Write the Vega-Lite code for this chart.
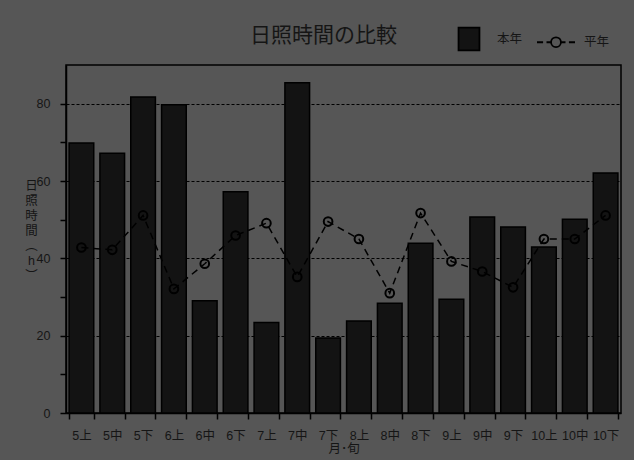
{
  "$schema": "https://vega.github.io/schema/vega-lite/v6.json",
  "width": 555,
  "height": 348,
  "autosize": "none",
  "padding": {"left": 66, "top": 65, "right": 13, "bottom": 47},
  "background": "#565656",
  "title": {"text": "日照時間の比較", "fontSize": 21, "fontWeight": "normal", "color": "#151515", "font": "Noto Sans CJK JP", "anchor": "middle", "frame": "group", "dx": -20, "baseline": "alphabetic", "offset": -44},
  "config": {
    "view": {"stroke": "#000000", "strokeWidth": 1.5},
    "font": "Liberation Sans, Noto Sans CJK JP, sans-serif",
    "axis": {"labelColor": "#151515", "titleColor": "#151515", "domainColor": "#000000", "domainWidth": 1.5, "tickColor": "#000000", "tickWidth": 1.5, "labelFontSize": 12.5, "titleFontSize": 12.5, "titleFontWeight": "normal"}
  },
  "data": {"values": [
    {"period": "5上", "thisYear": 69.8, "normal": 42.8},
    {"period": "5中", "thisYear": 67.2, "normal": 42.2},
    {"period": "5下", "thisYear": 81.7, "normal": 51.1},
    {"period": "6上", "thisYear": 79.7, "normal": 32.1},
    {"period": "6中", "thisYear": 29.0, "normal": 38.6},
    {"period": "6下", "thisYear": 57.2, "normal": 45.9},
    {"period": "7上", "thisYear": 23.4, "normal": 49.1},
    {"period": "7中", "thisYear": 85.4, "normal": 35.2},
    {"period": "7下", "thisYear": 19.4, "normal": 49.5},
    {"period": "8上", "thisYear": 23.8, "normal": 45.0},
    {"period": "8中", "thisYear": 28.4, "normal": 31.0},
    {"period": "8下", "thisYear": 43.9, "normal": 51.7},
    {"period": "9上", "thisYear": 29.4, "normal": 39.2},
    {"period": "9中", "thisYear": 50.7, "normal": 36.6},
    {"period": "9下", "thisYear": 48.1, "normal": 32.5},
    {"period": "10上", "thisYear": 42.9, "normal": 45.0},
    {"period": "10中", "thisYear": 50.1, "normal": 45.0},
    {"period": "10下", "thisYear": 62.1, "normal": 51.1}
  ]},
  "layer": [
    {
      "mark": {"type": "bar", "stroke": "#000000", "strokeWidth": 1.5, "fill": "#131313"},
      "encoding": {
        "x": {"field": "period", "type": "nominal", "sort": null,
          "scale": {"paddingInner": 0.2, "paddingOuter": 0.1},
          "axis": {"title": "月･旬", "labelAngle": 0, "tickBand": "extent", "tickSize": 6, "labelPadding": 10, "titlePadding": 1, "grid": false}},
        "y": {"field": "thisYear", "type": "quantitative",
          "scale": {"domain": [0, 90], "nice": false},
          "axis": {
            "values": [0, 10, 20, 30, 40, 50, 60, 70, 80],
            "labelExpr": "datum.value % 20 === 0 ? datum.label : ''",
            "grid": true,
            "gridColor": "#000000",
            "gridDash": [3, 2],
            "gridWidth": 1.2,
            "gridOpacity": {"condition": {"test": "datum.value % 20 === 0 && datum.value > 0", "value": 1}, "value": 0},
            "tickSize": 6,
            "labelPadding": 10,
            "title": ["日", "照", "時", "間", "︵", "h", "︶"],
            "titleAngle": 0,
            "titleAlign": "center",
            "titleBaseline": "middle",
            "titleLineHeight": 15,
            "titleX": -35,
            "titleY": 120
          }}
      }
    },
    {
      "mark": {"type": "line", "stroke": "#000000", "strokeWidth": 1.5, "strokeDash": [7, 5]},
      "encoding": {
        "x": {"field": "period", "type": "nominal", "sort": null},
        "y": {"field": "normal", "type": "quantitative"}
      }
    },
    {
      "mark": {"type": "point", "shape": "circle", "filled": false, "stroke": "#000000", "strokeWidth": 2, "size": 75, "opacity": 1},
      "encoding": {
        "x": {"field": "period", "type": "nominal", "sort": null},
        "y": {"field": "normal", "type": "quantitative"}
      }
    },
    {
      "data": {"values": [{"series": "本年"}, {"series": "平年"}]},
      "mark": {"type": "point", "strokeWidth": 1.8, "size": 0, "opacity": 1},
      "encoding": {
        "shape": {"field": "series", "type": "nominal",
          "scale": {"domain": ["本年", "平年"], "range": ["M-0.55,-0.6H0.55V0.6H-0.55Z", "M-1,0H-0.68M-0.5,0H-0.27M0.27,0H0.5M0.68,0H1M0.26,0A0.26,0.26 0 1 1 -0.26,0A0.26,0.26 0 1 1 0.26,0"]},
          "legend": {
            "title": null,
            "orient": "none",
            "legendX": 383,
            "legendY": -46,
            "direction": "horizontal",
            "padding": 0,
            "columnPadding": 10,
            "symbolSize": 1444,
            "symbolStrokeWidth": 1.8,
            "symbolOpacity": 1,
            "labelOffset": 8,
            "labelFontSize": 12.5,
            "labelColor": "#151515",
            "labelFont": "Noto Sans CJK JP"
          }},
        "fill": {"field": "series", "type": "nominal",
          "scale": {"domain": ["本年", "平年"], "range": ["#131313", "rgba(0,0,0,0)"]},
          "legend": {"title": null}},
        "stroke": {"field": "series", "type": "nominal",
          "scale": {"domain": ["本年", "平年"], "range": ["#000000", "#000000"]},
          "legend": {"title": null}}
      }
    }
  ]
}
